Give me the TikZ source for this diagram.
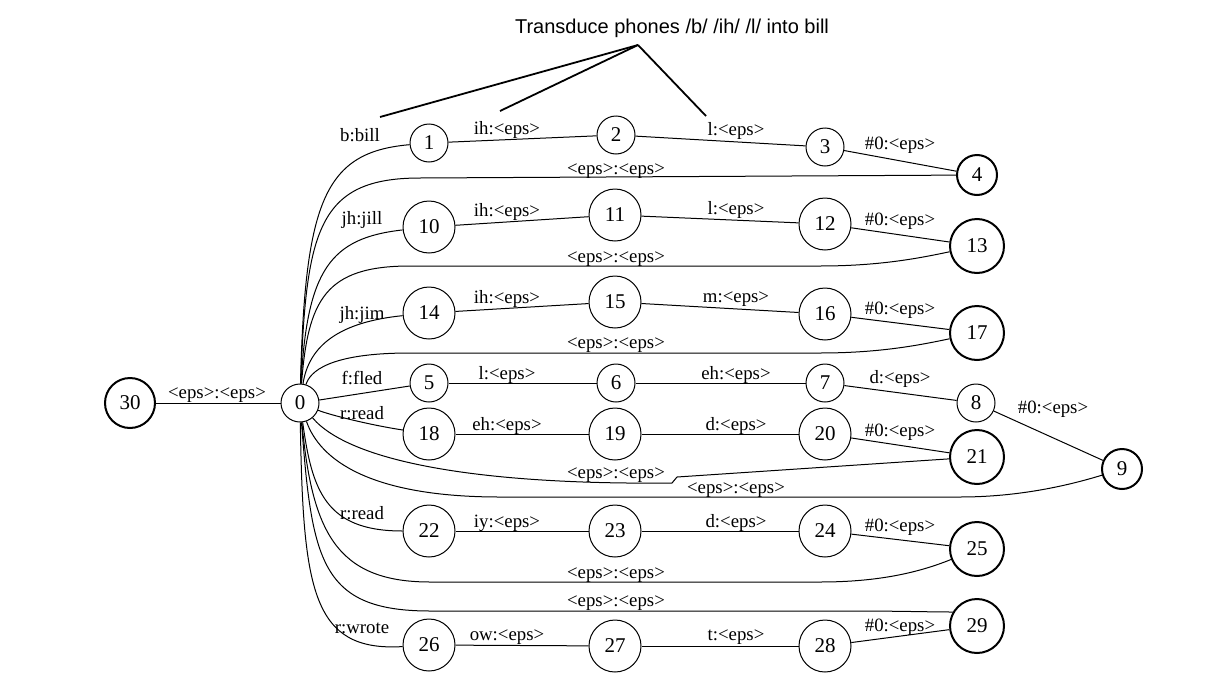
\documentclass[tikz,border=0pt]{standalone}
\usepackage{fontspec}
\setmainfont{Liberation Serif}
\newfontfamily\titlefont{Liberation Sans}
\begin{document}
\begin{tikzpicture}[x=0.5pt,y=-0.5pt,
  st/.style={circle,draw,line width=0.5pt,inner sep=0pt,font=\fontsize{10.5}{12}\selectfont},
  sm/.style={st,minimum size=19pt},
  lg/.style={st,minimum size=26pt},
  fs/.style={st,line width=1pt,minimum size=20pt},
  fn/.style={st,line width=1pt,minimum size=27pt},
  edge/.style={line width=0.5pt},
  lbl/.style={inner sep=0pt,yshift=-1.2pt,font=\fontsize{9.4}{11}\selectfont},
  pointer/.style={line width=0.9pt}]
\useasboundingbox (0,0) rectangle (1225,685);
% states
\node[st,line width=1pt,minimum size=25pt] (n30) at (130,403) {30};
\node[sm] (n0) at (300,403) {0};
\node[sm] (n1) at (429,143) {1};
\node[sm] (n2) at (616,135) {2};
\node[sm] (n3) at (825,147) {3};
\node[fs] (n4) at (977,175) {4};
\node[lg] (n10) at (429,227) {10};
\node[lg] (n11) at (615,215) {11};
\node[lg] (n12) at (825,224) {12};
\node[fn] (n13) at (977,246) {13};
\node[lg] (n14) at (429,313) {14};
\node[lg] (n15) at (615,302) {15};
\node[lg] (n16) at (825,314) {16};
\node[fn] (n17) at (977,333) {17};
\node[sm] (n5) at (429,383) {5};
\node[sm] (n6) at (616,383) {6};
\node[sm] (n7) at (825,383) {7};
\node[sm] (n8) at (976,403) {8};
\node[fs] (n9) at (1122,469) {9};
\node[lg] (n18) at (429,434) {18};
\node[lg] (n19) at (615,434) {19};
\node[lg] (n20) at (825,434) {20};
\node[fn] (n21) at (977,457) {21};
\node[lg] (n22) at (429,531) {22};
\node[lg] (n23) at (615,531) {23};
\node[lg] (n24) at (825,531) {24};
\node[fn] (n25) at (977,549) {25};
\node[lg] (n26) at (429,645) {26};
\node[lg] (n27) at (615,646) {27};
\node[lg] (n28) at (825,646) {28};
\node[fn] (n29) at (977,626) {29};
% straight chains
\draw[edge] (n30) -- (n0);
\draw[edge] (n1) -- (n2); \draw[edge] (n2) -- (n3); \draw[edge] (n3) -- (n4);
\draw[edge] (n10) -- (n11); \draw[edge] (n11) -- (n12); \draw[edge] (n12) -- (n13);
\draw[edge] (n14) -- (n15); \draw[edge] (n15) -- (n16); \draw[edge] (n16) -- (n17);
\draw[edge] (n0) -- (n5); \draw[edge] (n5) -- (n6); \draw[edge] (n6) -- (n7); \draw[edge] (n7) -- (n8); \draw[edge] (n8) -- (n9);
\draw[edge] (n18) -- (n19); \draw[edge] (n19) -- (n20); \draw[edge] (n20) -- (n21);
\draw[edge] (n22) -- (n23); \draw[edge] (n23) -- (n24); \draw[edge] (n24) -- (n25);
\draw[edge] (n26) -- (n27); \draw[edge] (n27) -- (n28); \draw[edge] (n28) -- (n29);
% curved arcs from 0
\draw[edge] (n0) .. controls (305,200) and (325,152) .. (n1);
\draw[edge] (n0) .. controls (306,230) and (318,178) .. (420,178) -- (n4);
\draw[edge] (n0) .. controls (307,270) and (330,238) .. (n10);
\draw[edge] (n0) .. controls (308,300) and (325,266) .. (410,266) -- (820,266) .. controls (880,266) and (920,258) .. (n13);
\draw[edge] (n0) .. controls (309,345) and (340,322) .. (n14);
\draw[edge] (n0) .. controls (310,372) and (328,353) .. (410,353) -- (820,353) .. controls (880,353) and (920,345) .. (n17);
\draw[edge] (n0) .. controls (330,415) and (370,425) .. (n18);
\draw[edge] (n0) .. controls (350,462) and (480,485) .. (672,483) -- (677,477) -- (n21);
\draw[edge] (n0) .. controls (320,460) and (370,497) .. (500,497) -- (960,497) .. controls (1020,497) and (1070,485) .. (n9);
\draw[edge] (n0) .. controls (312,490) and (325,531) .. (n22);
\draw[edge] (n0) .. controls (312,530) and (335,582) .. (430,582) -- (820,582) .. controls (880,582) and (920,572) .. (n25);
\draw[edge] (n0) .. controls (312,560) and (320,611) .. (430,611) -- (850,611) .. controls (900,611) and (930,612) .. (n29.150);
\draw[edge] (n0) .. controls (303,590) and (312,652) .. (n26);
% labels
\node[lbl] (l30) at (217,393) {<eps>:<eps>};
\node[lbl] (la) at (360,133) {b:bill};
\node[lbl] (lb) at (507,128) {ih:<eps>};
\node[lbl] (lc) at (736,129) {l:<eps>};
\node[lbl] (ld) at (900,143) {\#0:<eps>};
\node[lbl] (le) at (616,169) {<eps>:<eps>};
\node[lbl] (lf) at (362,218) {jh:jill};
\node[lbl] (lg1) at (507,210) {ih:<eps>};
\node[lbl] (lh) at (736,208) {l:<eps>};
\node[lbl] (li) at (900,219) {\#0:<eps>};
\node[lbl] (lj) at (616,257) {<eps>:<eps>};
\node[lbl] (lk) at (362,313) {jh:jim};
\node[lbl] (ll) at (507,297) {ih:<eps>};
\node[lbl] (lm) at (736,297) {m:<eps>};
\node[lbl] (ln) at (900,308) {\#0:<eps>};
\node[lbl] (lo) at (616,343) {<eps>:<eps>};
\node[lbl] (lp) at (362,376) {f:fled};
\node[lbl] (lq) at (507,373) {l:<eps>};
\node[lbl] (lr) at (736,373) {eh:<eps>};
\node[lbl] (ls) at (900,377) {d:<eps>};
\node[lbl] (lt) at (1053,407) {\#0:<eps>};
\node[lbl] (lu) at (362,411) {r:read};
\node[lbl] (lv) at (507,424) {eh:<eps>};
\node[lbl] (lw) at (736,424) {d:<eps>};
\node[lbl] (lx) at (900,430) {\#0:<eps>};
\node[lbl] (ly) at (616,473) {<eps>:<eps>};
\node[lbl] (lz) at (736,488) {<eps>:<eps>};
\node[lbl] (m1) at (362,511) {r:read};
\node[lbl] (m2) at (507,521) {iy:<eps>};
\node[lbl] (m3) at (736,521) {d:<eps>};
\node[lbl] (m4) at (900,525) {\#0:<eps>};
\node[lbl] (m5) at (616,573) {<eps>:<eps>};
\node[lbl] (m6) at (616,601) {<eps>:<eps>};
\node[lbl] (m7) at (362,626) {r:wrote};
\node[lbl] (m8) at (507,635) {ow:<eps>};
\node[lbl] (m9) at (736,635) {t:<eps>};
\node[lbl] (m10) at (900,625) {\#0:<eps>};
% title and pointers
\node[inner sep=0pt,font=\titlefont\fontsize{10}{12}\selectfont] (title) at (672,28) {Transduce phones /b/ /ih/ /l/ into bill};
\coordinate (apex) at (638,45);
\coordinate (p1) at (380,117);
\coordinate (p2) at (500,111);
\coordinate (p3) at (706,116);
\draw[pointer] (apex) -- (p1);
\draw[pointer] (apex) -- (p2);
\draw[pointer] (apex) -- (p3);
\end{tikzpicture}
\end{document}
